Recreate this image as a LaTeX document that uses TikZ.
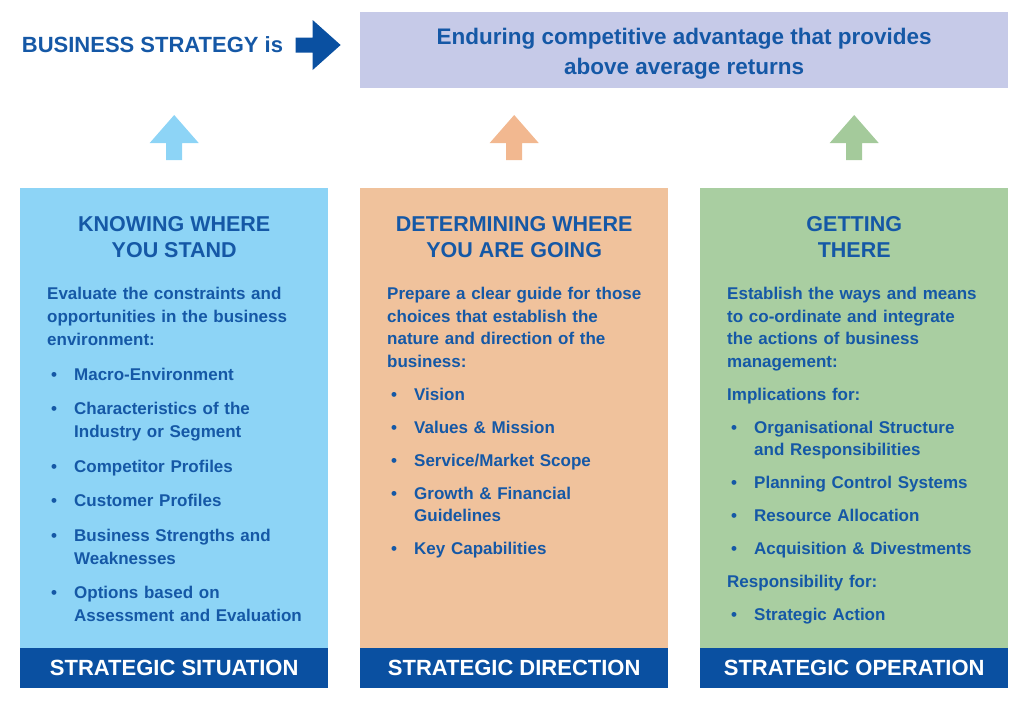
\documentclass[tikz,border=0pt]{standalone}
\usepackage{fontspec}
\setmainfont{Liberation Sans}
\setsansfont{Liberation Sans}
\usepackage{xcolor}
\definecolor{SS-blaa}{HTML}{1558A6}
\definecolor{SS-band}{HTML}{0A50A1}
\definecolor{SS-sky}{HTML}{8DD4F6}
\definecolor{SS-peach}{HTML}{F0C29C}
\definecolor{SS-peacharr}{HTML}{F2B890}
\definecolor{SS-sage}{HTML}{A9CEA1}
\definecolor{SS-sagearr}{HTML}{A4CA9B}
\definecolor{SS-lav}{HTML}{C6CAE8}
\usepackage{tikz}
\usetikzlibrary{positioning}

\newcommand{\punktgap}{10.5pt}
\newcommand{\punkt}[1]{\par\vspace{\punktgap}\noindent\hangindent=27pt\hangafter=1\makebox[27pt][l]{\hspace{4pt}\textbullet}#1\par}
\newcommand{\afsnit}[1]{\par\vspace{\punktgap}\noindent #1\par}

\begin{document}
\begin{tikzpicture}[x=1pt,y=-1pt,
  panel/.style={anchor=north west,minimum width=308pt,minimum height=500pt,inner sep=0pt},
  band/.style={anchor=south,fill=SS-band,text=white,minimum width=308pt,minimum height=40pt,inner sep=0pt,font=\fontsize{22}{26}\selectfont\bfseries},
  heading/.style={text=SS-blaa,align=center,font=\fontsize{21.5}{26}\selectfont\bfseries},
  body/.style={anchor=north west,text width=280pt,align=left,inner sep=0pt,text=SS-blaa,font=\fontsize{17}{22.5}\selectfont\bfseries}]
\useasboundingbox (0,0) rectangle (1024,704);

\node[text=SS-blaa,font=\fontsize{22}{26}\selectfont\bfseries] (bsis) at (152.5,45) {BUSINESS STRATEGY is};
\fill[SS-band] (bsis.east) ++(9,-7.5) -- ++(17,0) -- ++(0,-17.5) -- ++(28,25) -- ++(-28,25) -- ++(0,-17.5) -- ++(-17,0) -- cycle;

\node[anchor=north west,fill=SS-lav,minimum width=648pt,minimum height=76pt,inner sep=0pt,text=SS-blaa,align=center,font=\fontsize{22.5}{30}\selectfont\bfseries] (goal) at (360,12) {\rule{0pt}{24pt}Enduring competitive advantage that provides \\ above average returns};


\node[panel,fill=SS-sky] (situ) at (20,188) {};
\node[panel,fill=SS-peach] (dir) at (360,188) {};
\node[panel,fill=SS-sage] (oper) at (700,188) {};

\node[band] (situband) at (situ.south) {STRATEGIC SITUATION};
\node[band] (dirband) at (dir.south) {STRATEGIC DIRECTION};
\node[band] (operband) at (oper.south) {STRATEGIC OPERATION};

\foreach \p/\c in {situ/SS-sky, dir/SS-peacharr, oper/SS-sagearr}
  \fill[\c] (\p.north) ++(-8,-28) -- ++(0,-17) -- ++(-16.5,0) -- ++(24.5,-28) -- ++(24.5,28) -- ++(-16.5,0) -- ++(0,17) -- cycle;


\node[heading] (situhead) at ([yshift=-49pt]situ.north) {KNOWING WHERE \\ YOU STAND};
\node[heading] (dirhead) at ([yshift=-49pt]dir.north) {DETERMINING WHERE \\ YOU ARE GOING};
\node[heading] (operhead) at ([yshift=-49pt]oper.north) {GETTING \\ THERE};


\node[body,font=\fontsize{17}{23}\selectfont\bfseries] (situtxt) at ([xshift=27pt,yshift=-99pt]situ.north west) {\renewcommand{\punktgap}{11.5pt}\noindent Evaluate the constraints and\newline opportunities in the business\newline environment:
\punkt{Macro-Environment}
\punkt{Characteristics of the\newline Industry or Segment}
\punkt{Competitor Profiles}
\punkt{Customer Profiles}
\punkt{Business Strengths and\newline Weaknesses}
\punkt{Options based on\newline Assessment and Evaluation}
};

\node[body] (dirtxt) at ([xshift=27pt,yshift=-99pt]dir.north west) {\noindent Prepare a clear guide for those\newline choices that establish the\newline nature and direction of the\newline business:
\punkt{Vision}
\punkt{Values \& Mission}
\punkt{Service/Market Scope}
\punkt{Growth \& Financial\newline Guidelines}
\punkt{Key Capabilities}
};

\node[body] (opertxt) at ([xshift=27pt,yshift=-99pt]oper.north west) {\noindent Establish the ways and means\newline to co-ordinate and integrate\newline the actions of business\newline management:
\afsnit{Implications for:}
\punkt{Organisational Structure\newline and Responsibilities}
\punkt{Planning Control Systems}
\punkt{Resource Allocation}
\punkt{Acquisition \& Divestments}
\afsnit{Responsibility for:}
\punkt{Strategic Action}
};

\end{tikzpicture}
\end{document}
